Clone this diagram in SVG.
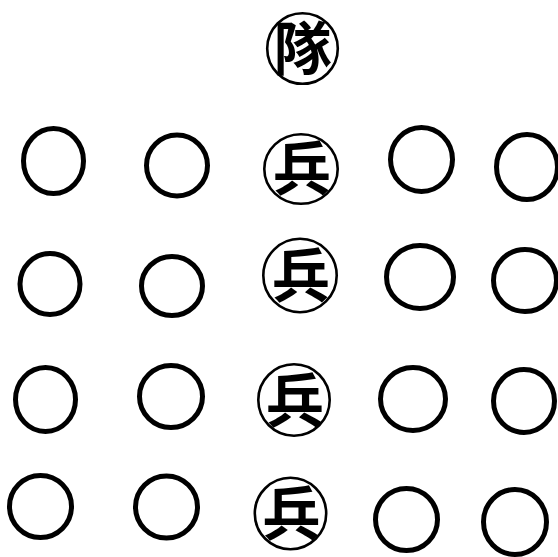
<svg xmlns="http://www.w3.org/2000/svg" width="558" height="557" viewBox="0 0 558 557">
<style>
.bg{fill:#ffffff}
.ring{fill:none;stroke:#000;stroke-width:5}
.lring{fill:none;stroke:#000;stroke-width:2.6}
.lbl{font-family:"Noto Sans CJK TC","Noto Sans CJK SC",sans-serif;font-size:58px;font-weight:700;fill:#000;text-anchor:middle}
</style>
<rect class="bg" x="0" y="0" width="558" height="557"/>
<g id="dui">
<ellipse class="lring" cx="302.5" cy="48.5" rx="35.3" ry="35.3"/>
<text class="lbl" x="302.5" y="70">隊</text>
</g>
<g id="r1c1"><ellipse class="ring" cx="53.5" cy="161" rx="30" ry="32.5"/></g>
<g id="r1c2"><ellipse class="ring" cx="177" cy="165.5" rx="30.5" ry="30.5"/></g>
<g id="r1c3">
<ellipse class="lring" cx="301" cy="169" rx="36.7" ry="34.8"/>
<text class="lbl" x="302" y="190">兵</text>
</g>
<g id="r1c4"><ellipse class="ring" cx="421.5" cy="159.5" rx="31" ry="32"/></g>
<g id="r1c5"><ellipse class="ring" cx="527" cy="167" rx="30.5" ry="32.5"/></g>
<g id="r2c1"><ellipse class="ring" cx="50" cy="284" rx="30" ry="30.5"/></g>
<g id="r2c2"><ellipse class="ring" cx="172" cy="286" rx="30.5" ry="29.5"/></g>
<g id="r2c3">
<ellipse class="lring" cx="300" cy="275.5" rx="36.7" ry="36.7"/>
<text class="lbl" x="301" y="297">兵</text>
</g>
<g id="r2c4"><ellipse class="ring" cx="420" cy="277" rx="33.5" ry="31.5"/></g>
<g id="r2c5"><ellipse class="ring" cx="525" cy="280.5" rx="31.5" ry="31"/></g>
<g id="r3c1"><ellipse class="ring" cx="45.5" cy="399.5" rx="30" ry="32"/></g>
<g id="r3c2"><ellipse class="ring" cx="171" cy="396.5" rx="31.5" ry="31"/></g>
<g id="r3c3">
<ellipse class="lring" cx="294" cy="400" rx="35.7" ry="35.7"/>
<text class="lbl" x="295" y="421.5">兵</text>
</g>
<g id="r3c4"><ellipse class="ring" cx="413" cy="399" rx="32.5" ry="31.5"/></g>
<g id="r3c5"><ellipse class="ring" cx="524" cy="401" rx="30.5" ry="31.5"/></g>
<g id="r4c1"><ellipse class="ring" cx="40.5" cy="506.5" rx="31" ry="31"/></g>
<g id="r4c2"><ellipse class="ring" cx="166.5" cy="507" rx="31" ry="31"/></g>
<g id="r4c3">
<ellipse class="lring" cx="290.5" cy="513.5" rx="35.7" ry="35.7"/>
<text class="lbl" x="291.5" y="535">兵</text>
</g>
<g id="r4c4"><ellipse class="ring" cx="406.5" cy="519.5" rx="31" ry="31"/></g>
<g id="r4c5"><ellipse class="ring" cx="515" cy="522" rx="31.5" ry="32.5"/></g>
</svg>
